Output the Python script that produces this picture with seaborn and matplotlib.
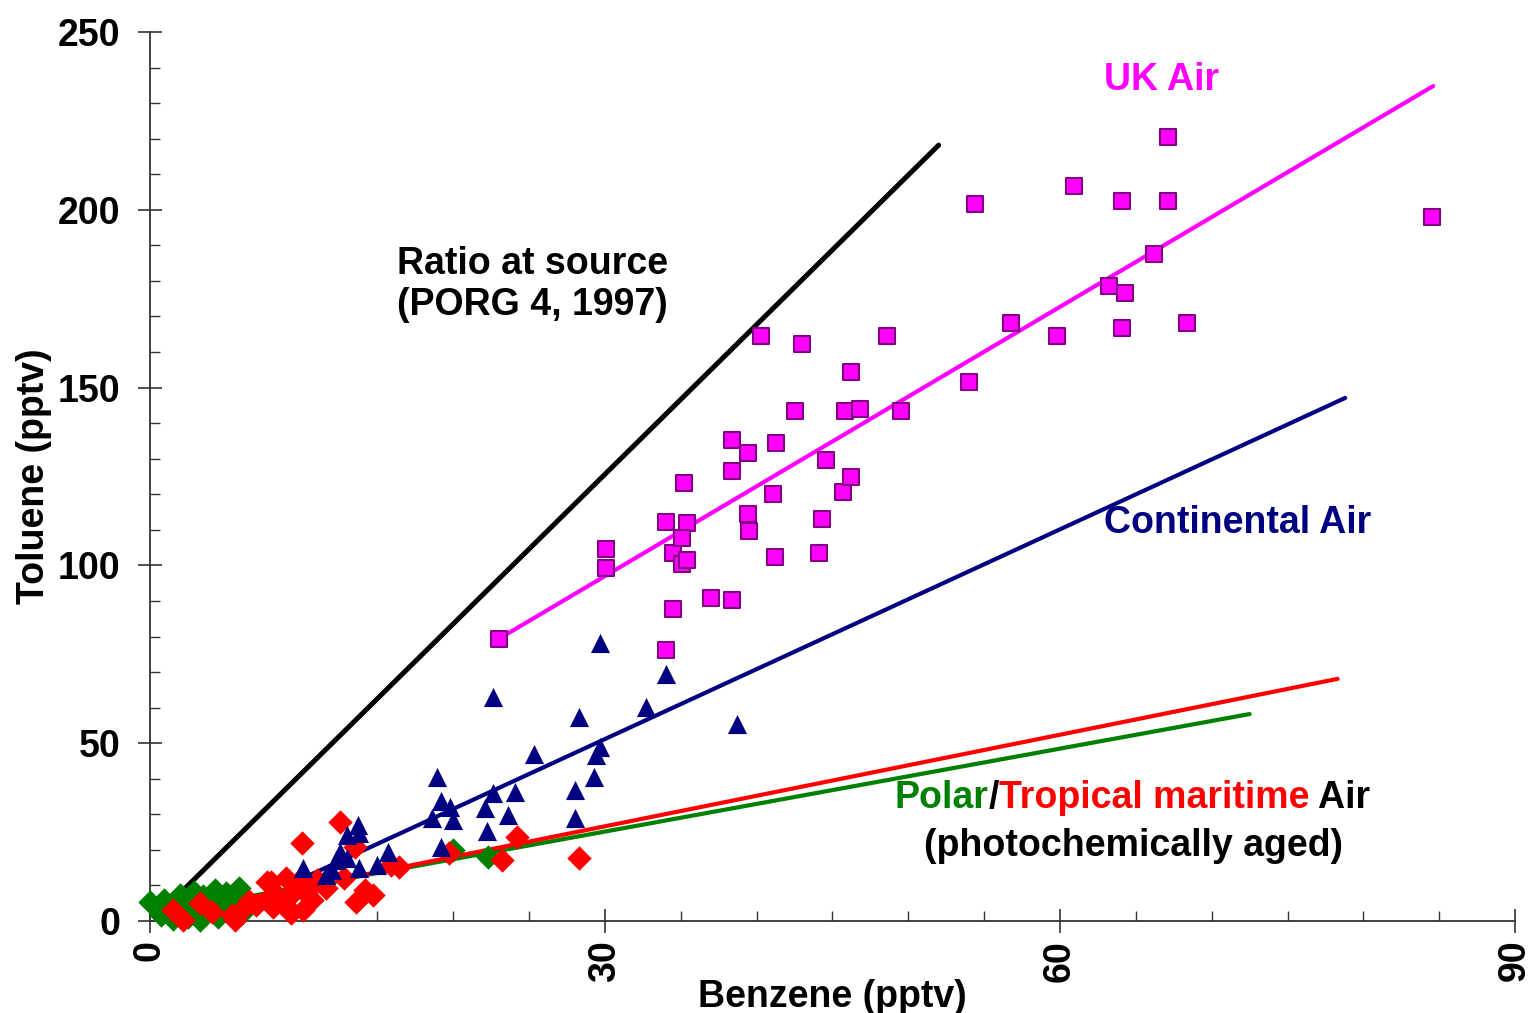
import matplotlib
matplotlib.use("Agg")
import matplotlib.pyplot as plt
import seaborn as sns

# benzene / toluene (pptv)
uk_benz = [23.0, 30.1, 30.1, 34.0, 34.5, 34.0, 34.5, 35.2, 35.4, 35.1, 35.1, 35.4,
           37.0, 38.4, 38.4, 38.4, 39.4, 39.4, 39.5, 40.3, 41.1, 41.3, 41.2, 42.5,
           43.0, 44.1, 44.3, 44.6, 45.7, 45.8, 46.2, 46.2, 46.8, 48.6, 49.5, 54.0,
           54.4, 56.8, 59.8, 60.9, 63.2, 64.1, 64.1, 64.3, 66.2, 67.1, 67.1, 68.4, 84.5]
uk_tol = [79.4, 104.5, 99.2, 76.2, 87.7, 112.2, 103.4, 123.3, 112.0, 107.6, 100.3, 101.5,
          90.7, 90.3, 135.3, 126.6, 131.5, 114.5, 109.8, 164.5, 120.0, 134.5, 102.4, 143.5,
          162.4, 103.4, 113.0, 129.6, 120.7, 143.5, 154.5, 124.9, 144.1, 164.5, 143.5, 151.6,
          201.6, 168.2, 164.5, 206.7, 178.7, 202.6, 166.9, 176.7, 187.6, 220.4, 202.6, 168.1, 197.9]

cont_benz = [10.1, 11.6, 12.0, 12.3, 12.5, 13.0, 13.0, 13.7, 13.8, 13.8, 15.0, 15.7,
             19.2, 18.6, 18.9, 19.2, 19.8, 20.0, 22.2, 22.6, 22.1, 22.6, 23.6, 24.1,
             25.3, 28.0, 28.0, 28.3, 29.3, 29.4, 29.7, 29.7, 32.7, 34.0, 38.7]
cont_tol = [14.8, 12.9, 14.3, 17.2, 19.5, 17.6, 24.2, 27.0, 24.7, 14.8, 15.7, 19.5,
            20.9, 28.9, 40.6, 33.8, 32.1, 28.4, 25.4, 35.9, 31.9, 63.1, 29.8, 36.2,
            47.0, 29.1, 36.8, 57.3, 40.6, 46.7, 49.0, 78.1, 60.1, 69.5, 55.4]

trop_benz = [1.5, 2.2, 3.3, 4.1, 5.4, 5.6, 6.1, 7.0, 7.7, 6.5, 7.7, 8.1, 8.0, 8.5,
             8.9, 9.0, 9.3, 9.4, 9.9, 10.0, 10.1, 10.3, 10.7, 11.0, 11.6, 12.8, 12.5,
             13.5, 13.6, 14.2, 14.7, 15.9, 16.4, 19.7, 23.2, 24.2, 28.3]
trop_tol = [3.1, 0.3, 5.0, 2.6, 1.7, 0.3, 3.1, 4.5, 11.1, 5.5, 5.9, 4.0, 11.1, 6.8,
            4.5, 12.0, 2.2, 7.8, 11.5, 22.0, 3.1, 7.8, 5.9, 11.5, 9.2, 12.0, 27.9,
            20.9, 5.4, 8.7, 7.3, 15.7, 15.3, 19.0, 17.2, 23.7, 17.6]

polar_benz = [0.0, 0.9, 0.7, 1.2, 1.8, 2.2, 2.5, 2.9, 3.3, 3.0, 3.7, 4.0, 4.3, 4.5,
              4.8, 5.0, 5.3, 5.9, 5.5, 6.0, 1.5, 2.0, 3.5, 11.9, 20.0, 22.3]
polar_tol = [5.4, 5.9, 1.7, 3.5, 3.1, 6.4, 1.0, 8.2, 0.3, 4.2, 5.0, 6.8, 8.7, 1.2,
             3.0, 7.8, 3.6, 9.2, 6.0, 2.0, 0.5, 7.2, 7.0, 12.5, 20.0, 18.1]

# fitted lines (end points)
source_x, source_y = [2.2, 52.0], [8.7, 218.2]
uk_fit_x, uk_fit_y = [23.1, 84.6], [79.6, 234.8]
cont_fit_x, cont_fit_y = [9.1, 78.8], [10.1, 147.1]
trop_fit_x, trop_fit_y = [1.3, 78.3], [2.0, 68.1]
polar_fit_x, polar_fit_y = [1.5, 72.5], [3.0, 58.2]

MAGENTA, NAVY, RED, GREEN = "#FF00FF", "#000080", "#FF0000", "#008000"

sns.set_theme(style="ticks")
plt.rcParams["font.family"] = ["Liberation Sans", "DejaVu Sans"]
plt.rcParams["font.weight"] = "bold"
plt.rcParams["text.color"] = "black"
plt.rcParams["axes.labelcolor"] = "black"
plt.rcParams["xtick.color"] = "#333333"
plt.rcParams["ytick.color"] = "#333333"
plt.rcParams["xtick.labelcolor"] = "black"
plt.rcParams["ytick.labelcolor"] = "black"
FS = 27

fig = plt.figure(figsize=(15.33, 10.13), dpi=100)
ax = fig.add_axes([0.0978, 0.0908, 0.8905, 0.8776])

# lines
for lx, ly, c, lw in [(source_x, source_y, "black", 3.6),
                      (uk_fit_x, uk_fit_y, MAGENTA, 3.0),
                      (cont_fit_x, cont_fit_y, NAVY, 3.0),
                      (polar_fit_x, polar_fit_y, GREEN, 3.0),
                      (trop_fit_x, trop_fit_y, RED, 3.0)]:
    sns.lineplot(x=lx, y=ly, color=c, linewidth=lw, ax=ax, zorder=2)

# points
sns.scatterplot(x=polar_benz, y=polar_tol, marker="D", s=155, color=GREEN,
                linewidth=0, ax=ax, zorder=3, clip_on=False)
sns.scatterplot(x=trop_benz, y=trop_tol, marker="D", s=155, color=RED,
                linewidth=0, ax=ax, zorder=3, clip_on=False)
sns.scatterplot(x=cont_benz, y=cont_tol, marker="^", s=190, color=NAVY,
                linewidth=0, ax=ax, zorder=4)
sns.scatterplot(x=uk_benz, y=uk_tol, marker="s", s=125, color=MAGENTA,
                edgecolor="#800080", linewidth=1.5, ax=ax, zorder=4)

ax.set_xlim(0, 90)
ax.set_ylim(0, 250)
ax.set_xticks([0, 30, 60, 90])
ax.set_yticks([0, 50, 100, 150, 200, 250])
ax.set_xticks(range(5, 90, 5), minor=True)
ax.set_yticks(range(10, 250, 10), minor=True)
ax.tick_params(which="major", direction="inout", length=17, width=1.2,
               labelsize=FS, bottom=True, left=True)
ax.tick_params(which="minor", direction="in", length=7, width=1.0,
               bottom=True, left=True)
ax.tick_params(axis="y", which="major", pad=13)
ax.tick_params(axis="x", which="major", pad=5)
for lab in ax.get_xticklabels():
    lab.set_rotation(90)
    lab.set_fontweight("bold")
for lab in ax.get_yticklabels():
    lab.set_fontweight("bold")

sns.despine(ax=ax)
for sp in ["left", "bottom"]:
    ax.spines[sp].set_color("#333333")
    ax.spines[sp].set_linewidth(1.3)

ax.set_xlabel("Benzene (pptv)", fontsize=FS, fontweight="bold", labelpad=-2)
ax.set_ylabel("Toluene (pptv)", fontsize=FS, fontweight="bold", labelpad=4)

# annotations
ax.text(16.3, 179, "Ratio at source\n(PORG 4, 1997)", fontsize=FS,
        fontweight="bold", ha="left", va="center", linespacing=1.15)
ax.text(62.9, 236.5, "UK Air", color=MAGENTA, fontsize=FS, fontweight="bold",
        ha="left", va="center")
ax.text(62.9, 112, "Continental Air", color=NAVY, fontsize=FS, fontweight="bold",
        ha="left", va="center")
t1 = ax.text(49.1, 34.6, "Polar", color=GREEN, fontsize=FS, fontweight="bold",
             ha="left", va="center")
t2 = ax.annotate("/", xy=(1, 0), xycoords=t1, color="black", fontsize=FS,
                 fontweight="bold", ha="left", va="bottom")
t3 = ax.annotate("Tropical maritime", xy=(1, 0), xycoords=t2, color=RED,
                 fontsize=FS, fontweight="bold", ha="left", va="bottom")
ax.annotate(" Air", xy=(1, 0), xycoords=t3, color="black", fontsize=FS,
            fontweight="bold", ha="left", va="bottom")
ax.text(64.85, 21.1, "(photochemically aged)", fontsize=FS, fontweight="bold",
        ha="center", va="center")

fig.savefig("out.png", dpi=100, facecolor="white")
